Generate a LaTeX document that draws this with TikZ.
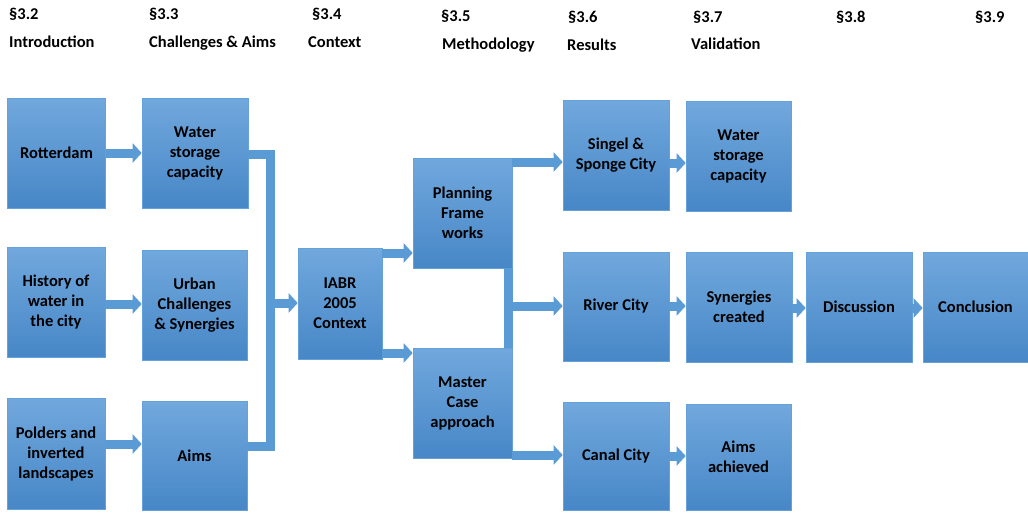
\documentclass[tikz,border=0pt]{standalone}
\usepackage{fontspec}
\setmainfont{Carlito}
\usepackage{tikz}
\usetikzlibrary{arrows.meta}

\definecolor{boxtop}{HTML}{71A8DD}
\definecolor{boxbot}{HTML}{4787C7}
\definecolor{boxline}{HTML}{66A2DA}
\definecolor{flowblue}{HTML}{5B9BD5}

\begin{document}
\begin{tikzpicture}[x=1pt,y=-1pt,
  every node/.style={font=\fontsize{16.5}{20}\selectfont\bfseries},
  blok/.style={draw=boxline,line width=0.6pt,top color=boxtop,bottom color=boxbot,
    align=center,inner sep=0pt,minimum width=106pt,minimum height=110pt},
  head/.style={anchor=base west,inner sep=0pt},
  flow/.style={draw=flowblue,line width=9pt,-{Triangle[length=9pt,width=19pt]}},
  bar/.style={draw=flowblue,line width=9pt}]
\useasboundingbox (0,0) rectangle (1028,512);

\node[head] (h32) at (9,19) {\S3.2};
\node[head] (h33) at (149,19) {\S3.3};
\node[head] (h34) at (312,19) {\S3.4};
\node[head] (h35) at (441,21) {\S3.5};
\node[head] (h36) at (568,22) {\S3.6};
\node[head] (h37) at (693,22) {\S3.7};
\node[head] (h38) at (836,22) {\S3.8};
\node[head] (h39) at (975,22) {\S3.9};

\node[head] (t32) at (9,47) {Introduction};
\node[head] (t33) at (149,47) {Challenges \& Aims};
\node[head] (t34) at (308,47) {Context};
\node[head] (t35) at (442,49) {Methodology};
\node[head] (t36) at (567,50) {Results};
\node[head] (t37) at (691,49) {Validation};

\node[blok,minimum width=98pt] (rot) at (56.5,153) {Rotterdam};
\node[blok,minimum width=98pt] (hist) at (56,302.5) {History of\\water in\\the city};
\node[blok,minimum width=98pt,minimum height=111pt] (pold) at (56,453.5) {Polders and\\inverted\\landscapes};

\node[blok] (wat) at (195,153) {Water\\storage\\capacity};
\node[blok,minimum width=105pt] (urb) at (194.5,305) {Urban\\Challenges\\\& Synergies};
\node[blok,minimum width=105pt,minimum height=109pt] (aim) at (194.5,455.5) {Aims};

\node[blok,minimum width=84pt,minimum height=111pt] (iabr) at (340,303.5) {IABR\\2005\\Context};

\node[blok,minimum width=99pt] (plan) at (462.5,213) {Planning\\Frame\\works};
\node[blok,minimum width=99pt] (mast) at (462.5,403) {Master\\Case\\approach};

\node[blok] (sing) at (616,155) {Singel \&\\Sponge City};
\node[blok,minimum height=109pt] (riv) at (616,306.5) {River City};
\node[blok,minimum height=108pt] (can) at (616,456) {Canal City};

\node[blok,minimum width=105pt] (val) at (738.5,156) {Water\\storage\\capacity};
\node[blok] (syn) at (739,307) {Synergies\\created};
\node[blok,minimum width=105pt,minimum height=106pt] (ach) at (738.5,457) {Aims\\achieved};

\node[blok] (disc) at (859,307) {Discussion};
\node[blok,minimum width=105pt] (conc) at (975.5,307) {Conclusion};

\coordinate (bx) at (270,303);
\coordinate (mx) at (508,306);

\draw[flow] (rot.east) -- (wat.west);
\draw[flow] (hist.east |- 0,304) -- (urb.west |- 0,304);
\draw[flow] (pold.east |- 0,444) -- (aim.west |- 0,444);
\draw[bar] (wat.east |- 0,154) -| (bx) |- (aim.east |- 0,446);
\draw[flow] (bx) -- (iabr.west |- bx);
\draw[flow] (iabr.east |- 0,253) -- (plan.west |- 0,253);
\draw[flow] (iabr.east |- 0,353) -- (mast.west |- 0,353);
\draw[flow] (plan.east |- 0,162) -- (sing.west |- 0,162);
\draw[bar] (plan.south -| mx) -- (mast.north -| mx);
\draw[flow] (mx) -- (riv.west |- mx);
\draw[flow] (mast.east |- 0,455) -- (can.west |- 0,455);
\draw[flow] (sing.east |- 0,163) -- (val.west |- 0,163);
\draw[flow] (riv.east |- 0,306) -- (syn.west |- 0,306);
\draw[flow] (can.east |- 0,456) -- (ach.west |- 0,456);
\draw[flow] (syn.east |- 0,308) -- (disc.west |- 0,308);
\draw[flow] (disc.east |- 0,308) -- (conc.west |- 0,308);
\end{tikzpicture}
\end{document}
